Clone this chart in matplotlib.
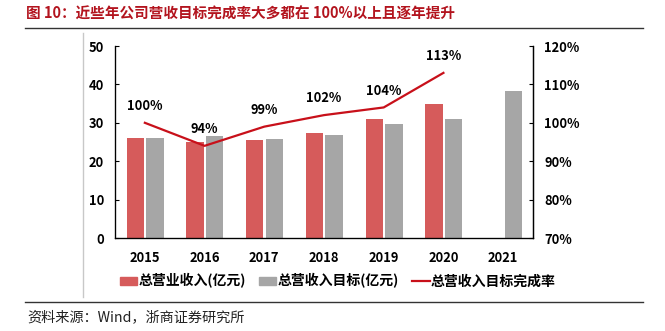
import numpy as np
import matplotlib
matplotlib.use('Agg')
import matplotlib.pyplot as plt
from matplotlib.patches import Patch
from matplotlib.lines import Line2D

plt.rcParams['font.family'] = ['Noto Sans CJK SC', 'DejaVu Sans']
plt.rcParams['font.weight'] = 'bold'

# revenue vs. target, 100 million yuan; completion rate in %
years = ['2015', '2016', '2017', '2018', '2019', '2020', '2021']
revenue = [26.0, 24.9, 25.5, 27.3, 30.9, 34.9, np.nan]
target = [26.0, 26.6, 25.9, 26.9, 29.8, 30.9, 38.2]
rate = [100, 94, 99, 102, 104, 113]
rate_labels = ['100%', '94%', '99%', '102%', '104%', '113%']

title = '图 10：近些年公司营收目标完成率大多都在 100%以上且逐年提升'
source = '资料来源：Wind，浙商证券研究所'
legend_names = ['总营业收入(亿元)', '总营收入目标(亿元)', '总营收入目标完成率']

c_rev = '#d65b5b'
c_tgt = '#a6a6a6'
c_line = '#c8101a'
c_title = '#b3141e'

W, H = 665, 331
fig = plt.figure(figsize=(W / 100, H / 100), dpi=100)

ax = fig.add_axes([115 / W, 1 - 238 / H, (533 - 115) / W, (238 - 46) / H])
x = np.arange(len(years))
bw = 0.29
ax.bar(x - 0.16, revenue, bw, color=c_rev, zorder=2)
ax.bar(x + 0.17, target, bw, color=c_tgt, zorder=2)
ax.set_xlim(-0.5, len(years) - 0.5)
ax.set_ylim(0, 50)
ax.set_yticks(range(0, 51, 10))
ax.set_xticks(x)
ax.set_xticklabels(years)
ax.tick_params(axis='x', length=0, pad=9, labelsize=9.3)
ax.tick_params(axis='y', direction='in', length=3, width=0.8, pad=8, labelsize=9.3)
ax.spines['top'].set_visible(False)
for s in ('left', 'bottom', 'right'):
    ax.spines[s].set_linewidth(0.9)

ax2 = ax.twinx()
xr = x[:len(rate)]
ax2.plot(xr, rate, color=c_line, lw=1.6, zorder=3)
ax2.set_ylim(70, 120)
ax2.set_yticks(range(70, 121, 10))
ax2.set_yticklabels(['%d%%' % v for v in range(70, 121, 10)])
ax2.tick_params(axis='y', direction='in', length=3, width=0.8, pad=8, labelsize=9.3)
ax2.spines['top'].set_visible(False)
ax2.spines['right'].set_linewidth(0.9)
for xi, v, lab in zip(xr, rate, rate_labels):
    ax2.annotate(lab, (xi, v), xytext=(0, 7), textcoords='offset points',
                 ha='center', va='bottom', fontsize=9.3, fontweight='bold')

handles = [Patch(color=c_rev), Patch(color=c_tgt), Line2D([], [], color=c_line, lw=1.6)]
fig.legend(handles, legend_names, loc='center', bbox_to_anchor=(0.508, 1 - 281 / H),
           ncol=3, frameon=False, handlelength=1.25, handleheight=0.5,
           handletextpad=0.1, columnspacing=0.95, borderpad=0,
           prop={'weight': 'bold', 'size': 10})

# header, rules and source note
fig.text(26 / W, 1 - 14 / H, title, color=c_title, fontsize=10.5, fontweight='bold',
         ha='left', va='center')
fig.add_artist(Line2D([25 / W, 643 / W], [1 - 27.5 / H] * 2, color='#333333', lw=1.0))
fig.add_artist(Line2D([25 / W, 643 / W], [1 - 301.5 / H] * 2, color='#333333', lw=1.0))
fig.add_artist(Line2D([83 / W, 83 / W], [1 - 33 / H, 1 - 297 / H], color='#c8c8c8', lw=1.0))
fig.text(27 / W, 1 - 317 / H, source, fontsize=10.2, fontweight='normal',
         ha='left', va='center', color='#222222')

fig.savefig('out.png', dpi=100)
